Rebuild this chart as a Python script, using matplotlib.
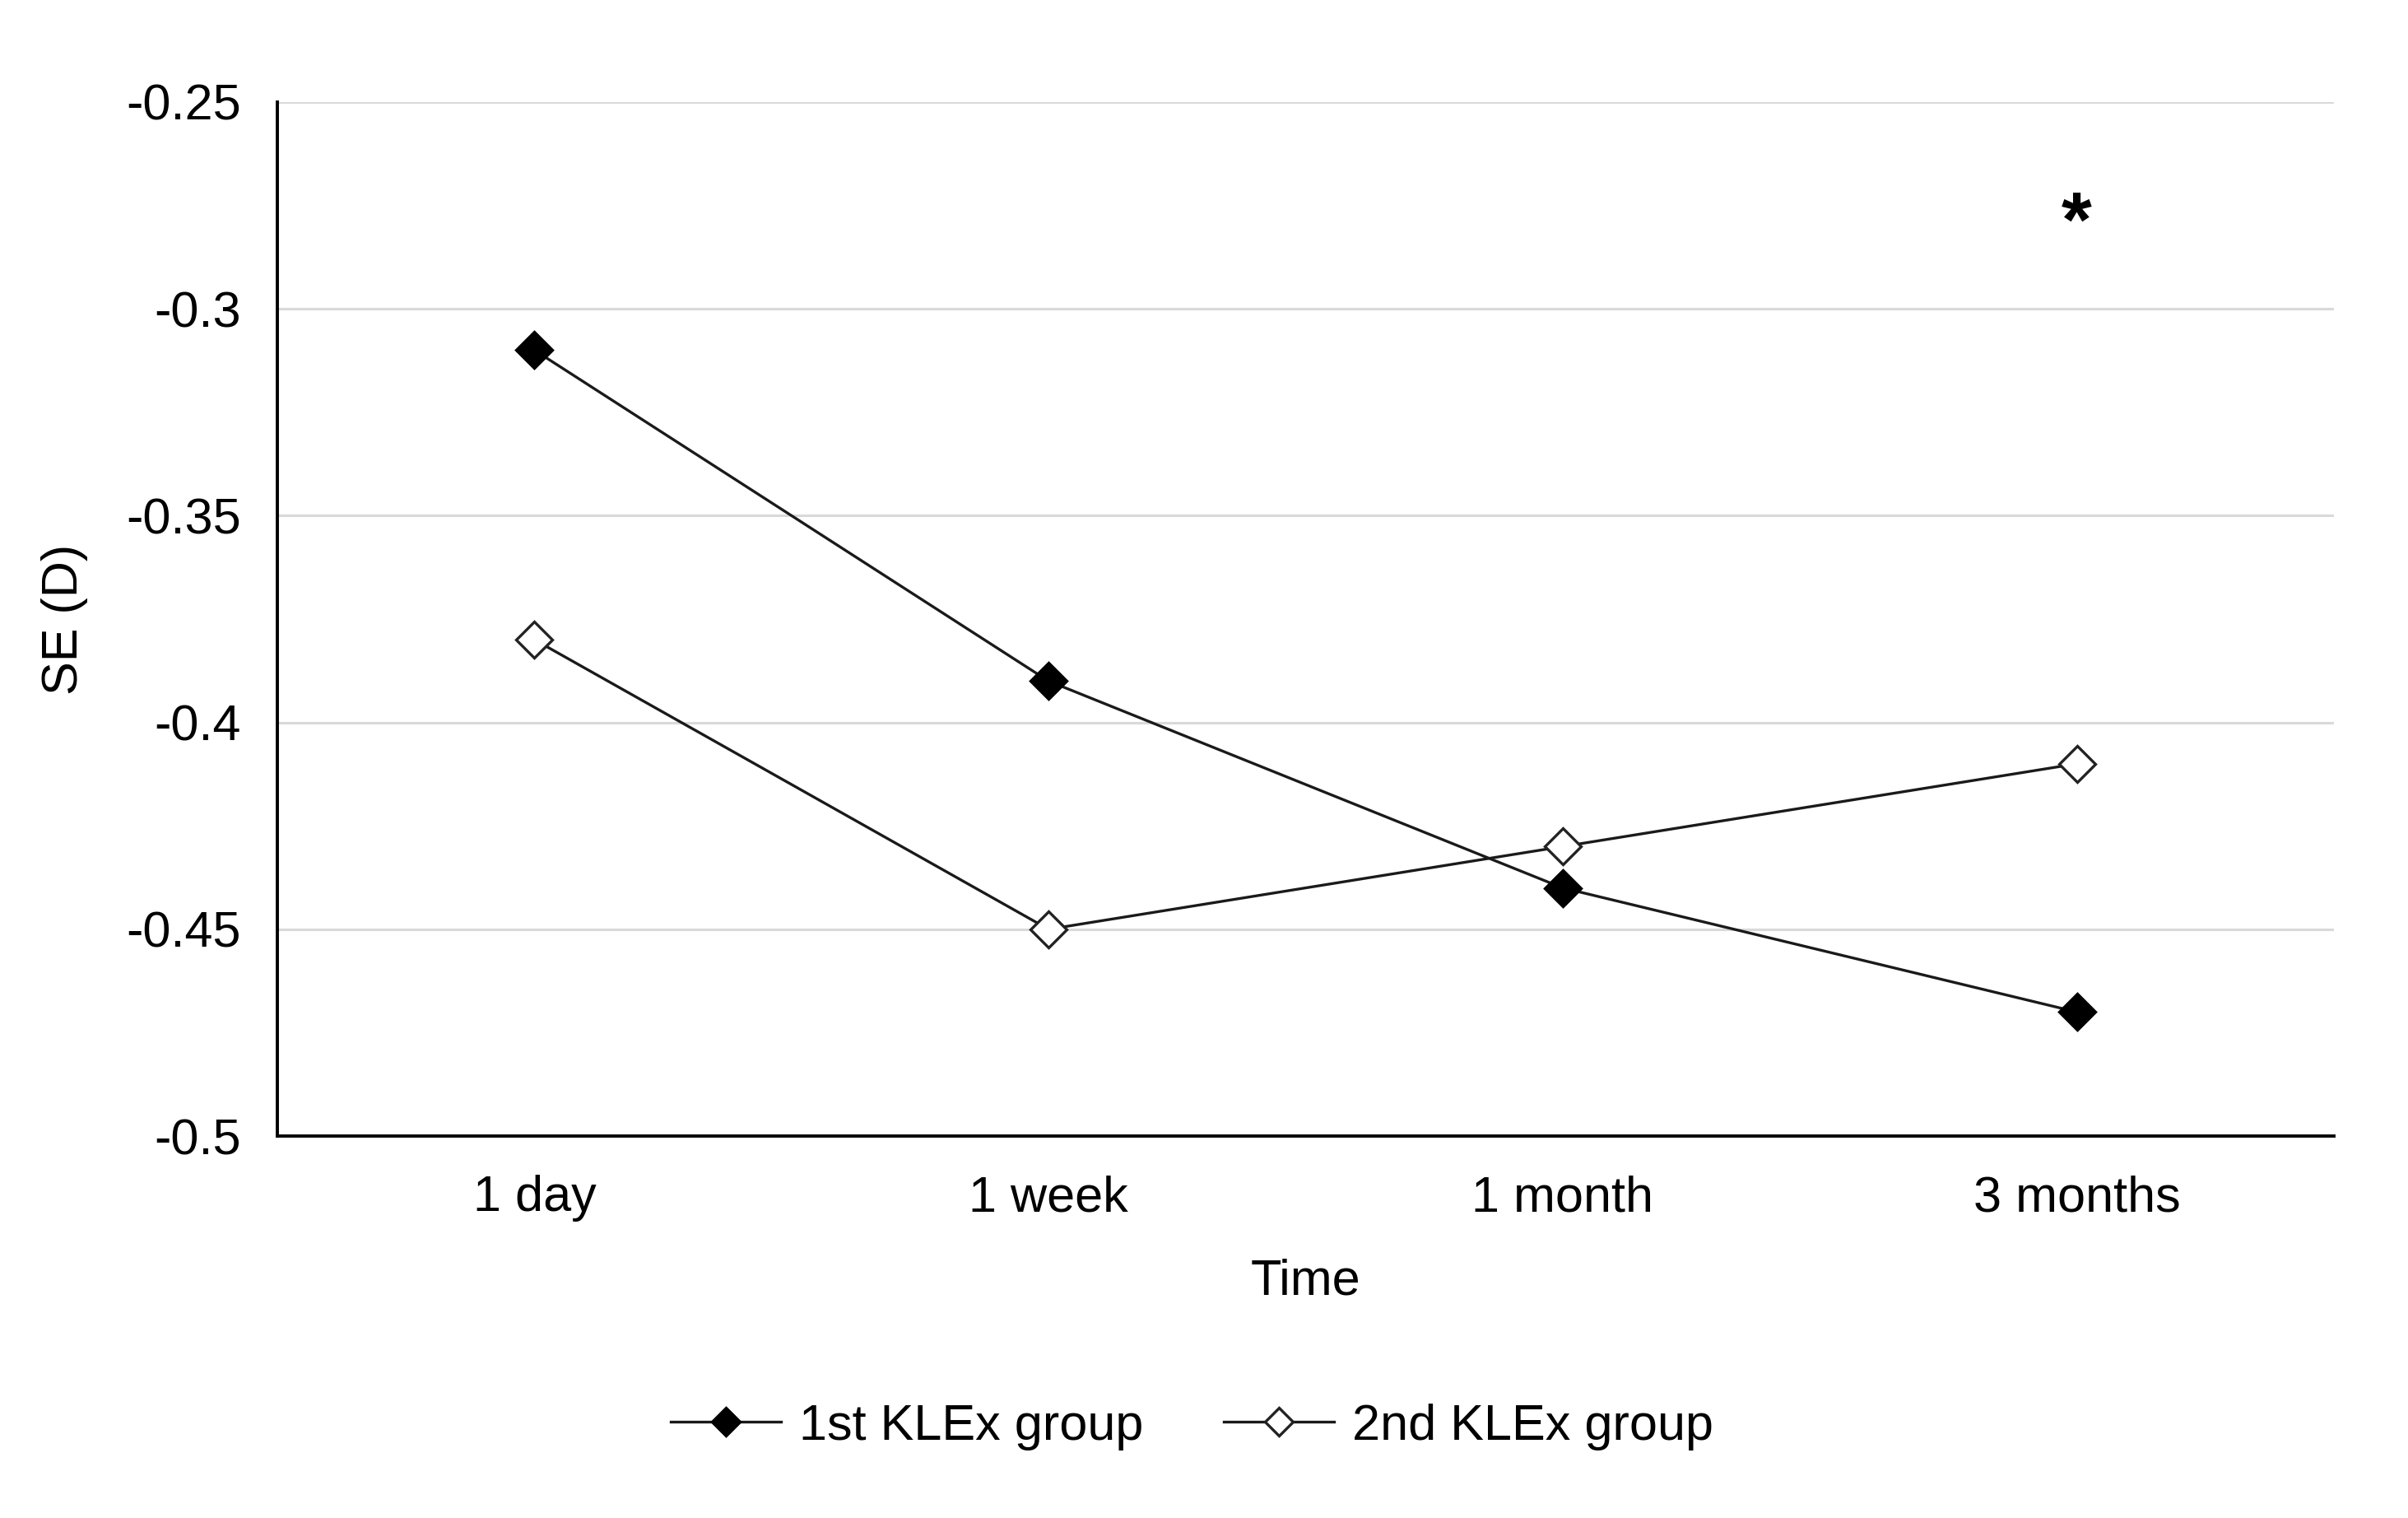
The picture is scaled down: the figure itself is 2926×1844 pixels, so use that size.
import matplotlib
matplotlib.use("Agg")
import matplotlib.pyplot as plt

# data
time_points = ["1 day", "1 week", "1 month", "3 months"]
first_klex = [-0.31, -0.39, -0.44, -0.47]
second_klex = [-0.38, -0.45, -0.43, -0.41]
y_ticks = [-0.5, -0.45, -0.4, -0.35, -0.3, -0.25]
y_tick_labels = ["-0.5", "-0.45", "-0.4", "-0.35", "-0.3", "-0.25"]
star_point = (3, -0.28)

plt.rcParams['font.family'] = ['Liberation Sans', 'DejaVu Sans']
FS = 22

fig = plt.figure(figsize=(14.63, 9.22), dpi=200)
ax = fig.add_axes([0.1152, 0.2516, 0.8540, 0.6812])

x = list(range(len(time_points)))
ax.plot(x, first_klex, color="#1a1a1a", lw=1.2, marker="D", ms=11,
        mfc="black", mec="black", mew=1.2, label="1st KLEx group", zorder=3)
ax.plot(x, second_klex, color="#1a1a1a", lw=1.2, marker="D", ms=11,
        mfc="white", mec="#222222", mew=1.2, label="2nd KLEx group", zorder=3)

ax.text(star_point[0], star_point[1], "*", fontsize=34, fontweight="bold",
        ha="center", va="center", color="black")

ax.set_xlim(-0.5, 3.5)
ax.set_ylim(-0.5, -0.25)
ax.set_xticks(x)
ax.set_xticklabels(time_points, fontsize=FS)
ax.set_yticks(y_ticks)
ax.set_yticklabels(y_tick_labels, fontsize=FS)
ax.tick_params(axis="both", length=0, colors="black")
ax.tick_params(axis="y", pad=16)
ax.tick_params(axis="x", pad=17)

ax.grid(axis="y", color="#d9d9d9", lw=1.1)
ax.set_axisbelow(True)
for s in ["top", "right"]:
    ax.spines[s].set_visible(False)
for s in ["left", "bottom"]:
    ax.spines[s].set_color("black")
    ax.spines[s].set_linewidth(1.4)

ax.set_xlabel("Time", fontsize=FS)
ax.xaxis.set_label_coords(0.5, -0.118)
ax.set_ylabel("SE (D)", fontsize=FS)
ax.yaxis.set_label_coords(-0.092, 0.5)

fig.legend(loc="center", bbox_to_anchor=(0.495, 0.06), ncol=2, frameon=False,
           fontsize=FS, handlelength=2.2, handletextpad=0.35, columnspacing=1.6,
           numpoints=1, markerscale=0.8)

fig.savefig("out.png", dpi=200)
